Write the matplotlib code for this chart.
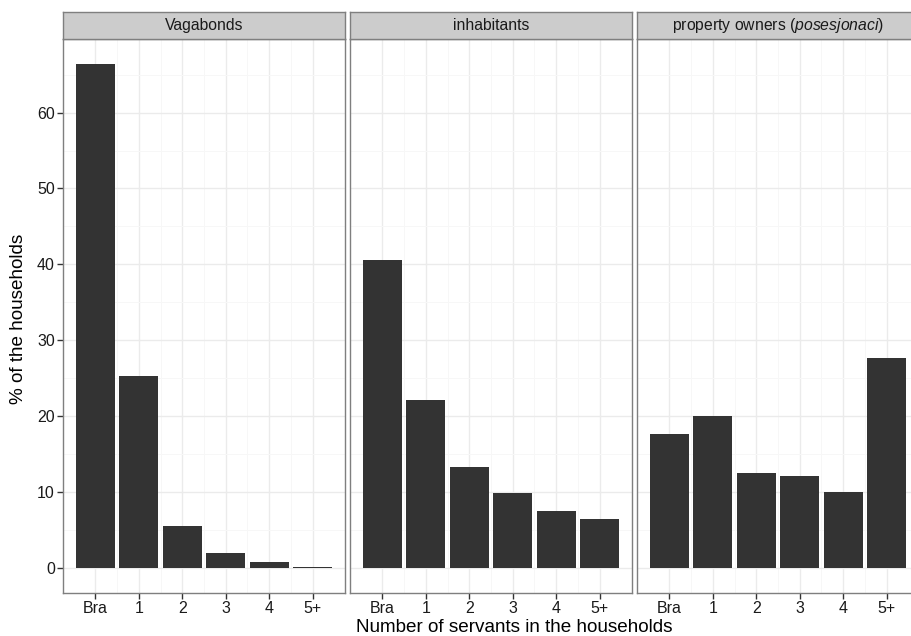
import numpy as np
import matplotlib
matplotlib.use('Agg')
import matplotlib.pyplot as plt
from matplotlib.ticker import MultipleLocator, FixedLocator

plt.rcParams['font.family'] = ['Liberation Sans', 'DejaVu Sans']
plt.rcParams['mathtext.fontset'] = 'custom'
plt.rcParams['mathtext.rm'] = 'Liberation Sans'
plt.rcParams['mathtext.it'] = 'Liberation Sans:italic'

categories = ['Bra', '1', '2', '3', '4', '5+']
groups = ['Vagabonds', 'inhabitants', r'property owners ($\mathit{posesjonaci}$)']
vagabonds = [66.4, 25.3, 5.5, 1.95, 0.75, 0.05]
inhabitants = [40.6, 22.1, 13.3, 9.85, 7.5, 6.45]
owners = [17.6, 20.0, 12.5, 12.1, 10.0, 27.7]
values = [vagabonds, inhabitants, owners]

W, H = 912, 636
fig = plt.figure(figsize=(W / 100, H / 100), dpi=100)

panel_w = 281.5
gap = 5.5
left0 = 63.3
top_px, bot_px = 39.0, 592.7
strip_top = 11.7

border = '#7f7f7f'
ymax = max(max(v) for v in values)

for i, (name, vals) in enumerate(zip(groups, values)):
    lx = left0 + i * (panel_w + gap)
    ax = fig.add_axes([lx / W, 1 - bot_px / H, panel_w / W, (bot_px - top_px) / H])
    x = np.arange(1, len(categories) + 1)
    ax.bar(x, vals, width=0.9, color='#333333', zorder=3)
    ax.set_xlim(0.26, 6.74)
    ax.set_ylim(-0.05 * ymax, ymax * 1.05)
    ax.set_xticks(x)
    ax.set_xticklabels(categories)
    ax.xaxis.set_minor_locator(FixedLocator(x[:-1] + 0.5))
    ax.yaxis.set_major_locator(MultipleLocator(10))
    ax.yaxis.set_minor_locator(MultipleLocator(5))
    ax.grid(which='major', color='#ebebeb', lw=1.0, zorder=0)
    ax.grid(which='minor', color='#f7f7f7', lw=0.7, zorder=0)
    ax.set_axisbelow(True)
    for s in ax.spines.values():
        s.set_color(border)
        s.set_linewidth(1.0)
    ax.tick_params(which='major', length=4, width=1, color='#333333',
                   labelsize=11.5, labelcolor='#1a1a1a', pad=2)
    ax.tick_params(which='minor', length=0)
    if i > 0:
        ax.tick_params(axis='y', which='both', left=False, labelleft=False)

    sax = fig.add_axes([lx / W, 1 - top_px / H, panel_w / W, (top_px - strip_top) / H])
    sax.set_facecolor('#cccccc')
    sax.set_xticks([])
    sax.set_yticks([])
    for s in sax.spines.values():
        s.set_color(border)
        s.set_linewidth(1.0)
    sax.text(0.5, 0.5, name, ha='center', va='center', fontsize=11.3,
             color='#1a1a1a', transform=sax.transAxes)

fig.text(18.5 / W, 1 - 319 / H, '% of the households',
         rotation=90, ha='center', va='center', fontsize=13.6)
fig.text(514 / W, 1 - 628 / H, 'Number of servants in the households',
         ha='center', va='center', fontsize=13.6)

fig.savefig('out.png', dpi=100)
